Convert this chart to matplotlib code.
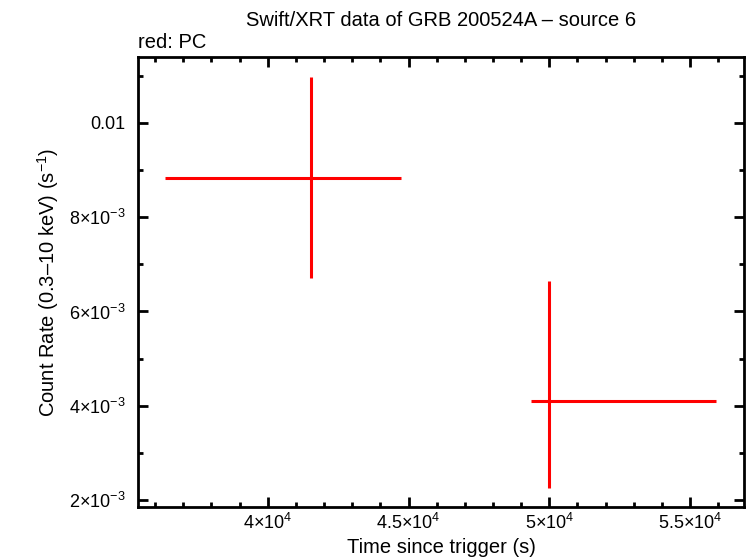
import matplotlib
matplotlib.use('Agg')
import matplotlib.pyplot as plt
import numpy as np
from matplotlib.ticker import FixedLocator, MultipleLocator

plt.rcParams['font.family'] = ['Liberation Sans', 'DejaVu Sans']
plt.rcParams['mathtext.fontset'] = 'custom'
plt.rcParams['mathtext.rm'] = 'Liberation Sans'
plt.rcParams['mathtext.it'] = 'Liberation Sans:italic'

# Dados (modo PC)
tempo = np.array([41525, 50000])
tempo_ini = np.array([36348, 49362])
tempo_fim = np.array([44716, 55922])
taxa = np.array([0.00883, 0.00409])
taxa_min = np.array([0.00670, 0.00226])
taxa_max = np.array([0.01098, 0.00664])

xticks = [40000, 45000, 50000, 55000]
xticklabels = [r'4$\times$10$^{4}$', r'4.5$\times$10$^{4}$', r'5$\times$10$^{4}$', r'5.5$\times$10$^{4}$']
yticks = [0.002, 0.004, 0.006, 0.008, 0.01]
yticklabels = [r'2$\times$10$^{-3}$', r'4$\times$10$^{-3}$', r'6$\times$10$^{-3}$', r'8$\times$10$^{-3}$', '0.01']

fig = plt.figure(figsize=(7.46, 5.58), dpi=100)
ax = fig.add_axes([138/746, 1 - 507/558, 606/746, 450/558])

xerr = [tempo - tempo_ini, tempo_fim - tempo]
yerr = [taxa - taxa_min, taxa_max - taxa]
ax.errorbar(tempo, taxa, xerr=xerr, yerr=yerr, fmt='none', ecolor='#ff0000',
            elinewidth=2.2, capsize=0)

ax.set_xlim(35390, 56915)
ax.set_ylim(0.00185, 0.0114)

ax.xaxis.set_major_locator(FixedLocator(xticks))
ax.set_xticklabels(xticklabels)
ax.xaxis.set_minor_locator(MultipleLocator(1000))
ax.yaxis.set_major_locator(FixedLocator(yticks))
ax.set_yticklabels(yticklabels)
ax.yaxis.set_minor_locator(MultipleLocator(0.001))

ax.tick_params(which='both', direction='in', top=True, right=True, width=2,
               labelsize=13)
ax.tick_params(which='major', length=7)
ax.tick_params(which='minor', length=3.5)
ax.tick_params(axis='y', pad=9)
ax.tick_params(axis='x', pad=4)
for s in ax.spines.values():
    s.set_linewidth(2)

ax.set_xlabel('Time since trigger (s)', fontsize=14.5, labelpad=4)
ax.set_ylabel('Count Rate (0.3\u201310 keV) (s$^{-1}$)', fontsize=14.5, labelpad=6)
ax.set_title('Swift/XRT data of GRB 200524A \u2013 source 6', fontsize=14.5, pad=22)
fig.text(138/746, 1 - 42/558, 'red: PC', fontsize=14.5, ha='left', va='center')

fig.savefig('out.png', dpi=100)
